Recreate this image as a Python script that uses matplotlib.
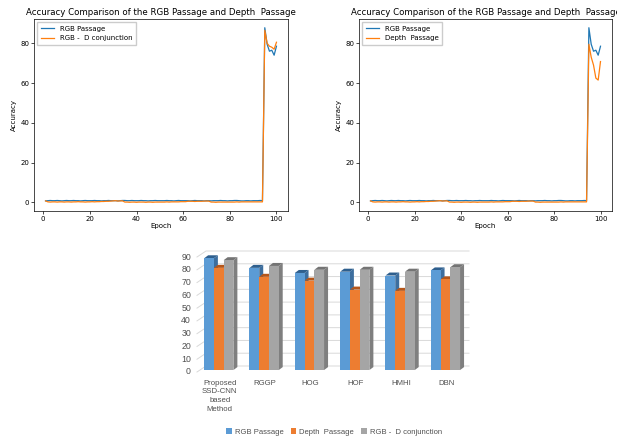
import matplotlib
matplotlib.use("Agg")
import matplotlib.pyplot as plt
from matplotlib.patches import Polygon, Patch
import numpy as np

# ---------------- data ----------------
epochs = list(range(1, 101))

rgb_passage = [0.8, 0.9, 1.0, 0.9, 0.9, 1.0, 0.9, 0.8, 0.9, 1.0,
               0.9, 0.9, 1.0, 0.9, 0.9, 0.8, 0.9, 1.0, 0.9, 0.9,
               0.9, 1.0, 0.9, 0.9, 0.8, 0.9, 0.9, 1.0, 0.9, 0.9,
               0.9, 0.8, 0.9, 1.0, 1.0, 0.9, 0.9, 1.0, 0.9, 0.9,
               0.9, 1.0, 0.9, 0.9, 0.8, 0.9, 0.9, 1.0, 0.9, 0.9,
               0.9, 0.9, 1.0, 0.9, 0.9, 0.8, 0.9, 1.0, 0.9, 0.9,
               0.9, 0.9, 0.8, 0.9, 1.0, 0.9, 0.9, 0.9, 0.8, 0.9,
               0.9, 0.8, 0.9, 0.9, 0.9, 1.0, 0.9, 0.9, 0.8, 0.9,
               0.9, 1.0, 1.0, 0.9, 0.8, 0.8, 0.9, 0.9, 0.8, 0.9,
               0.9, 0.9, 1.0, 0.9,
               87.8, 79.5, 76.0, 76.5, 74.0, 78.5]

rgbd_conjunction = [0.8, 0.3, 0.2, 0.3, 0.3, 0.2, 0.3, 0.3, 0.2, 0.3,
                    0.3, 0.2, 0.3, 0.3, 0.4, 0.3, 0.3, 0.2, 0.3, 0.3,
                    0.4, 0.3, 0.4, 0.4, 0.5, 0.5, 0.6, 0.6, 0.7, 0.8,
                    0.9, 0.7, 0.8, 0.8, 0.2, 0.2, 0.1, 0.2, 0.2, 0.1,
                    0.2, 0.2, 0.2, 0.1, 0.2, 0.2, 0.1, 0.2, 0.2, 0.2,
                    0.2, 0.2, 0.3, 0.2, 0.3, 0.3, 0.3, 0.3, 0.4, 0.4,
                    0.4, 0.6, 0.6, 0.6, 0.5, 0.6, 0.6, 0.6, 0.7, 0.7,
                    0.7, 0.2, 0.2, 0.1, 0.2, 0.2, 0.2, 0.2, 0.2, 0.2,
                    0.2, 0.2, 0.3, 0.2, 0.3, 0.3, 0.3, 0.3, 0.3, 0.3,
                    0.3, 0.3, 0.3, 0.3,
                    86.5, 80.0, 78.5, 78.0, 77.0, 80.5]

depth_passage = [0.8, 0.3, 0.2, 0.3, 0.3, 0.2, 0.3, 0.3, 0.2, 0.3,
                 0.3, 0.2, 0.3, 0.3, 0.4, 0.3, 0.3, 0.2, 0.3, 0.3,
                 0.4, 0.3, 0.4, 0.4, 0.5, 0.5, 0.6, 0.6, 0.7, 0.8,
                 0.9, 0.7, 0.8, 0.8, 0.2, 0.2, 0.1, 0.2, 0.2, 0.1,
                 0.2, 0.2, 0.2, 0.1, 0.2, 0.2, 0.1, 0.2, 0.2, 0.2,
                 0.2, 0.2, 0.3, 0.2, 0.3, 0.3, 0.3, 0.3, 0.4, 0.4,
                 0.4, 0.6, 0.6, 0.6, 0.5, 0.6, 0.6, 0.6, 0.7, 0.7,
                 0.7, 0.2, 0.2, 0.1, 0.2, 0.2, 0.2, 0.2, 0.2, 0.2,
                 0.2, 0.2, 0.3, 0.2, 0.3, 0.3, 0.3, 0.3, 0.3, 0.3,
                 0.3, 0.3, 0.3, 0.3,
                 79.5, 73.0, 69.0, 62.5, 61.5, 70.8]

methods = ["Proposed\nSSD-CNN\nbased\nMethod", "RGGP", "HOG", "HOF", "HMHI", "DBN"]
bar_rgb = [87.5, 80, 76, 77, 74, 78]
bar_depth = [80, 73, 70, 63, 62, 71]
bar_rgbd = [86, 81.5, 78.5, 78.5, 77, 80.5]

line_title = "Accuracy Comparison of the RGB Passage and Depth  Passage"

# ---------------- figure ----------------
W, H = 617, 437
fig = plt.figure(figsize=(W / 100, H / 100), dpi=100)


def px_axes(x0, y0, x1, y1):
    return fig.add_axes([x0 / W, 1 - y1 / H, (x1 - x0) / W, (y1 - y0) / H])


def style_line_axes(ax):
    for s in ax.spines.values():
        s.set_linewidth(0.5)
    ax.tick_params(labelsize=5, length=2, width=0.5, pad=1.5)
    ax.set_xlabel("Epoch", fontsize=5, labelpad=1)
    ax.set_ylabel("Accuracy", fontsize=5, labelpad=2)
    ax.set_title(line_title, fontsize=6.2, pad=3)
    ax.set_yticks([0, 20, 40, 60, 80])
    ax.set_xticks([0, 20, 40, 60, 80, 100])
    ax.legend(loc="upper left", fontsize=5, handlelength=2.0, borderpad=0.45,
              labelspacing=0.55, framealpha=1, edgecolor="#cccccc", fancybox=False)


ax1 = px_axes(34, 19, 288, 211)
ax1.plot(epochs, rgb_passage, color="#1f77b4", lw=0.9, label="RGB Passage")
ax1.plot(epochs, rgbd_conjunction, color="#ff7f0e", lw=0.9, label="RGB -  D conjunction")
style_line_axes(ax1)

ax2 = px_axes(359, 19, 612, 211)
ax2.plot(epochs, rgb_passage, color="#1f77b4", lw=0.9, label="RGB Passage")
ax2.plot(epochs, depth_passage, color="#ff7f0e", lw=0.9, label="Depth  Passage")
style_line_axes(ax2)

# ---------------- 3D-look bar chart ----------------
bx0, bx1, by_top, by_bot = 197, 469, 257, 372
ax3 = px_axes(bx0, by_top, bx1, by_bot)
ax3.set_xlim(-0.5, len(methods) - 0.5)
ax3.set_ylim(0, 90)
ax3.axis("off")

ppx = (bx1 - bx0) / len(methods)   # px per category unit
ppy = (by_bot - by_top) / 90.0     # px per value unit
wall_dx, wall_dy = 9 / ppx, 6 / ppy
bar_dx, bar_dy = 4 / ppx, 3 / ppy
base = 1.5
bw = 0.215

grid_c = "#d9d9d9"
font_bar = "Liberation Sans"
txt_c = "#505050"
for v in range(0, 91, 10):
    ax3.plot([-0.5, -0.5 + wall_dx, len(methods) - 0.5],
             [v, v + wall_dy, v + wall_dy], color=grid_c, lw=0.7, clip_on=False, zorder=0)
    ax3.text(-0.5 - 6 / ppx, v, str(v), ha="right", va="center", fontsize=6.3,
             family=font_bar, color=txt_c)

series = [
    (bar_rgb, "#5B9BD5", "#2E5F8E", "#3D6E9E"),
    (bar_depth, "#ED7D31", "#B5561A", "#C0601F"),
    (bar_rgbd, "#A5A5A5", "#747474", "#7F7F7F"),
]
for i in range(len(methods)):
    for k, (vals, cf, ct, cs) in enumerate(series):
        x = i - 1.5 * bw + k * bw - 0.02
        v = vals[i]
        y0, y1 = base, base + v
        side = Polygon([(x + bw, y0), (x + bw + bar_dx, y0 + bar_dy),
                        (x + bw + bar_dx, y1 + bar_dy), (x + bw, y1)],
                       closed=True, facecolor=cs, edgecolor="none", zorder=2 + k, clip_on=False)
        top = Polygon([(x, y1), (x + bw, y1), (x + bw + bar_dx, y1 + bar_dy),
                       (x + bar_dx, y1 + bar_dy)],
                      closed=True, facecolor=ct, edgecolor="none", zorder=2 + k, clip_on=False)
        front = Polygon([(x, y0), (x + bw, y0), (x + bw, y1), (x, y1)],
                        closed=True, facecolor=cf, edgecolor="none", zorder=2 + k, clip_on=False)
        ax3.add_patch(side)
        ax3.add_patch(top)
        ax3.add_patch(front)
    ax3.text(i, -6, methods[i], ha="center", va="top", fontsize=5.6, family=font_bar,
             color=txt_c, linespacing=1.35)

handles = [Patch(facecolor="#5B9BD5"), Patch(facecolor="#ED7D31"), Patch(facecolor="#A5A5A5")]
labels = ["RGB Passage", "Depth  Passage", "RGB -  D conjunction"]
fig.legend(handles, labels, loc="center", bbox_to_anchor=(334 / W, 1 - 432 / H), ncol=3,
           frameon=False, prop={"family": font_bar, "size": 5.5},
           handlelength=0.75, handleheight=0.75, handletextpad=0.4, columnspacing=0.9,
           labelcolor=txt_c)

fig.savefig("out.png", dpi=100)
